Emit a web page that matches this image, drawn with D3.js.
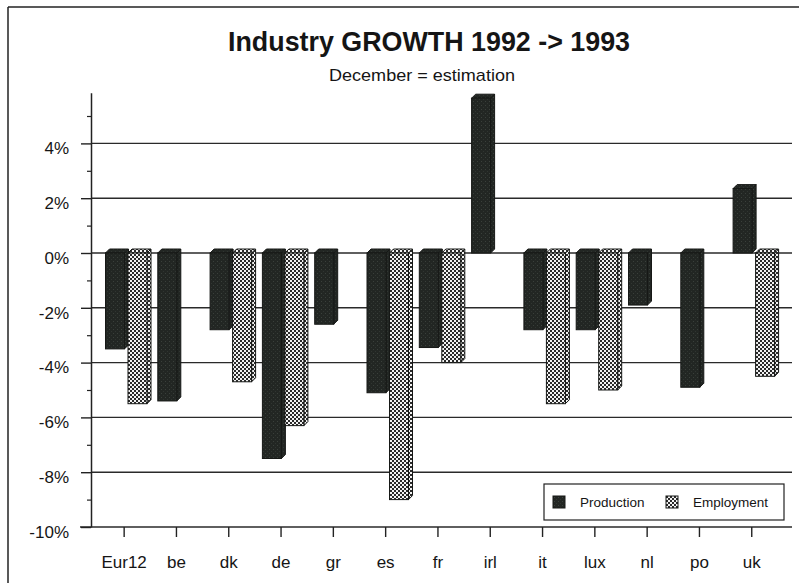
<!DOCTYPE html>
<html>
<head>
<meta charset="utf-8">
<script src="https://cdn.jsdelivr.net/npm/d3@7"></script>
<style>
  body { margin: 0; background: #fff; }
  svg { display: block; }
  text { font-family: "Liberation Sans", Arial, Helvetica, sans-serif; fill: #151515; }
</style>
</head>
<body>
<svg id="chart" width="799" height="583"></svg>
<script>
// values (percent growth 1992 -> 1993)
const categories = ["Eur12", "be", "dk", "de", "gr", "es", "fr", "irl", "it", "lux", "nl", "po", "uk"];
const production = [-3.5, -5.4, -2.8, -7.5, -2.6, -5.1, -3.45, 5.65, -2.8, -2.8, -1.9, -4.9, 2.35];
const employment = [-5.5, null, -4.7, -6.3, null, -9.0, -4.0, null, -5.5, -5.0, null, null, -4.5];
const series = ["Production", "Employment"];
const yTicks = [-10, -8, -6, -4, -2, 0, 2, 4];
const yMinor = [-9, -7, -5, -3, -1, 1, 3, 5];

const svg = d3.select("#chart");

// patterns
let defs = svg.append("defs");
let pp = defs.append("pattern").attr("id", "prod")
  .attr("patternUnits", "userSpaceOnUse").attr("width", 4).attr("height", 4);
pp.append("rect").attr("width", 4).attr("height", 4).attr("fill", "#222623");
pp.append("rect").attr("x", 1).attr("y", 1).attr("width", 1).attr("height", 1).attr("fill", "#3a403b");
pp.append("rect").attr("x", 3).attr("y", 3).attr("width", 1).attr("height", 1).attr("fill", "#303531");

let ep = defs.append("pattern").attr("id", "emp")
  .attr("patternUnits", "userSpaceOnUse").attr("width", 4).attr("height", 4);
ep.append("rect").attr("width", 4).attr("height", 4).attr("fill", "#f3f3f3");
ep.append("rect").attr("width", 2).attr("height", 2).attr("fill", "#2a2a2a");
ep.append("rect").attr("x", 2).attr("y", 2).attr("width", 2).attr("height", 2).attr("fill", "#2a2a2a");

// frame of the scanned page
svg.append("line").attr("x1", 8).attr("x2", 799).attr("y1", 7).attr("y2", 7)
  .attr("stroke", "#222").attr("stroke-width", 1.5);
svg.append("line").attr("x1", 8).attr("x2", 8).attr("y1", 7).attr("y2", 583)
  .attr("stroke", "#222").attr("stroke-width", 1.5);

// titles
svg.append("text").attr("x", 429).attr("y", 51).attr("text-anchor", "middle")
  .attr("font-size", 27).attr("font-weight", "bold")
  .attr("textLength", 402).attr("lengthAdjust", "spacingAndGlyphs")
  .text("Industry GROWTH 1992 -> 1993");
svg.append("text").attr("x", 422).attr("y", 81).attr("text-anchor", "middle")
  .attr("font-size", 17)
  .attr("textLength", 186).attr("lengthAdjust", "spacingAndGlyphs")
  .text("December = estimation");

// scales
const x = d3.scaleBand().domain(categories).range([98, 98 + 13 * 52.3]);
const xs = d3.scaleBand().domain(series).range([7.5, 52.5]);
const y = d3.scaleLinear().domain([-10, 5.85]).range([527, 527 - 15.85 * 27.4]);

const axisX = 91, rightX = 792;

// grid lines (behind bars)
svg.append("g").selectAll("line")
  .data(yTicks)
  .join("line")
  .attr("x1", d => d === -10 ? 80 : axisX)
  .attr("x2", rightX)
  .attr("y1", d => y(d)).attr("y2", d => y(d))
  .attr("stroke", "#2a2a2a").attr("stroke-width", 1.4);

// bars
let bars = [];
categories.forEach((c, i) => {
  bars.push({cat: c, s: "Production", v: production[i]});
  if (employment[i] !== null) bars.push({cat: c, s: "Employment", v: employment[i]});
});

const w = 19, dep = 4;
let bg = svg.append("g");
bars.forEach(b => {
  let x0 = x(b.cat) + xs(b.s);
  let top = y(Math.max(b.v, 0)), bot = y(Math.min(b.v, 0));
  let fill = b.s === "Production" ? "url(#prod)" : "url(#emp)";
  let stroke = "#161816";
  let g = bg.append("g");
  g.append("polygon")
    .attr("points", [[x0 + w, top], [x0 + w + dep, top - dep], [x0 + w + dep, bot - dep], [x0 + w, bot]].join(" "))
    .attr("fill", fill).attr("stroke", stroke).attr("stroke-width", 1);
  g.append("polygon")
    .attr("points", [[x0, top], [x0 + dep, top - dep], [x0 + w + dep, top - dep], [x0 + w, top]].join(" "))
    .attr("fill", fill).attr("stroke", stroke).attr("stroke-width", 1);
  g.append("rect")
    .attr("x", x0).attr("y", top).attr("width", w).attr("height", bot - top)
    .attr("fill", fill).attr("stroke", stroke).attr("stroke-width", 1);
});

// y axis
let ya = svg.append("g").attr("transform", `translate(${axisX},0)`)
  .call(d3.axisLeft(y).tickValues(yTicks).tickSize(10).tickSizeOuter(0).tickPadding(12)
    .tickFormat(d => d + "%"));
ya.select(".domain").attr("stroke", "#222").attr("stroke-width", 1.5);
ya.selectAll(".tick line").attr("stroke", "#222").attr("stroke-width", 1.4);
ya.selectAll("text").attr("font-size", 17).attr("font-family", null).attr("dy", "0.6em")
  .attr("fill", "#151515");

let ym = svg.append("g").attr("transform", `translate(${axisX},0)`)
  .call(d3.axisLeft(y).tickValues(yMinor).tickSize(4).tickFormat(""));
ym.select(".domain").remove();
ym.selectAll(".tick line").attr("stroke", "#222").attr("stroke-width", 1.2);

// x axis
let xa = svg.append("g").attr("transform", `translate(0,${y(-10)})`)
  .call(d3.axisBottom(x).tickSize(10).tickSizeOuter(0).tickPadding(19));
xa.select(".domain").remove();
xa.selectAll(".tick line").attr("stroke", "#222").attr("stroke-width", 1.4);
xa.selectAll("text").attr("font-size", 17).attr("font-family", null).attr("fill", "#151515");

// legend
let lg = svg.append("g").attr("transform", "translate(544,484)");
lg.append("rect").attr("width", 240).attr("height", 36)
  .attr("fill", "#fff").attr("stroke", "#222").attr("stroke-width", 1.2);
let items = lg.selectAll("g.item").data(series).join("g")
  .attr("class", "item")
  .attr("transform", (d, i) => `translate(${i === 0 ? 9 : 122},12)`);
items.append("rect").attr("width", 12).attr("height", 12)
  .attr("fill", d => d === "Production" ? "url(#prod)" : "url(#emp)")
  .attr("stroke", "#161816");
items.append("text").attr("x", 27).attr("y", 11)
  .attr("font-size", 13.5).text(d => d);
</script>
</body>
</html>
